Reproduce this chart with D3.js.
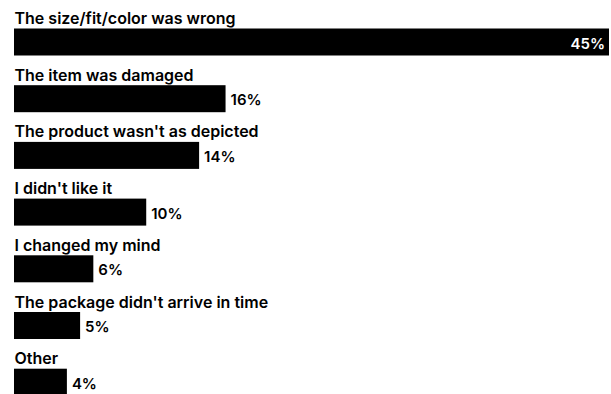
<!DOCTYPE html>
<html>
<head>
<meta charset="utf-8">
<script src="https://cdn.jsdelivr.net/npm/d3@7"></script>
<style>
  body { margin: 0; background: #fff; }
  text { font-family: Inter, "Noto Sans", sans-serif; fill: #000; }
</style>
</head>
<body>
<script>
var reasons = [
  "The size/fit/color was wrong",
  "The item was damaged",
  "The product wasn't as depicted",
  "I didn't like it",
  "I changed my mind",
  "The package didn't arrive in time",
  "Other"
];
var shares = [45, 16, 14, 10, 6, 5, 4];

var size_graph = { x: 611, y: 394 };
var margin = { top: 0, right: 2, bottom: 0, left: 14 };

var rowStep = 56.7;
var barTop = 28.5;
var barH = 27;

var x = d3.scaleLinear()
    .domain([0, 45])
    .range([0, 595]);

var svg = d3.select("body").append("svg")
    .attr("width", size_graph.x)
    .attr("height", size_graph.y)
  .append("g")
    .attr("transform", `translate(${margin.left},${margin.top})`);

var data = reasons.map((r, i) => ({ reason: r, value: shares[i] }));

var row = svg.selectAll(".row")
    .data(data)
    .enter().append("g")
    .attr("class", "row")
    .attr("transform", (d, i) => `translate(0,${i * rowStep})`);

row.append("text")
    .attr("x", 0.5)
    .attr("y", 24)
    .attr("font-size", 16)
    .attr("font-weight", 600)
    .text(d => d.reason);

row.append("rect")
    .attr("x", 0)
    .attr("y", barTop)
    .attr("width", d => x(d.value))
    .attr("height", barH)
    .attr("fill", "#000");

// the widest bar gets its label inside, the others outside
row.append("text")
    .attr("x", (d, i) => i === 0 ? x(d.value) - 4 : x(d.value) + 5)
    .attr("y", barTop + 20)
    .attr("text-anchor", (d, i) => i === 0 ? "end" : "start")
    .attr("font-size", 15)
    .attr("font-weight", 600)
    .style("fill", (d, i) => i === 0 ? "#fff" : "#000")
    .text(d => d.value + "%");
</script>
</body>
</html>
